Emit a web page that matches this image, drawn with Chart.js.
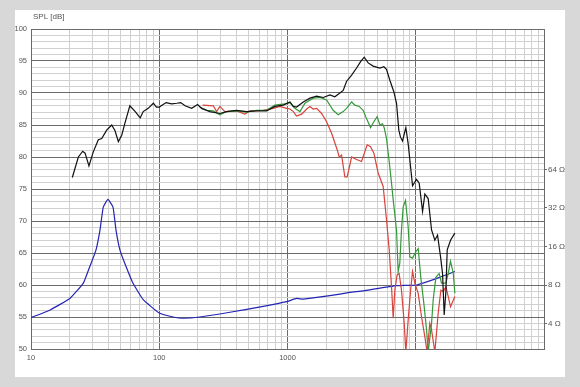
<!DOCTYPE html>
<html>
<head>
<meta charset="utf-8">
<script src="https://cdn.jsdelivr.net/npm/chart.js@4.4.0/dist/chart.umd.min.js"></script>
<style>
  html, body { margin: 0; padding: 0; background: #d8d8d8; }
  canvas { display: block; }
</style>
</head>
<body>
<canvas id="splChart" width="580" height="387"></canvas>
<script>
// SPL curves (Hz, dB)
const blackFreq = [21, 23.4, 25.3, 26.4, 28.3, 30.6, 33.5, 35.6, 38.9, 42.6, 45.2, 48, 51, 54, 59, 65, 71, 75, 82, 90, 95, 100, 113, 125, 137, 147, 159, 179, 199, 214, 248, 297, 335, 401, 480, 574, 687, 798, 927, 1045, 1110, 1178, 1327, 1496, 1687, 1902, 2140, 2340, 2560, 2718, 2884, 3162, 3456, 3715, 3963, 4257, 4656, 5250, 5636, 5915, 6281, 6745, 7081, 7380, 7603, 7886, 8370, 8724, 9440, 10140, 10640, 11300, 11780, 12500, 13280, 14090, 14790, 15610, 16180, 16670, 17180, 17590, 18670, 20180];
const blackSpl = [76.8, 80.0, 80.9, 80.6, 78.6, 80.8, 82.7, 82.9, 84.2, 85.0, 84.1, 82.4, 83.4, 85.3, 88.0, 87.1, 86.1, 87.1, 87.6, 88.4, 87.8, 87.8, 88.5, 88.3, 88.4, 88.5, 88.0, 87.6, 88.2, 87.6, 87.1, 86.8, 87.1, 87.3, 87.1, 87.2, 87.2, 87.9, 88.1, 88.6, 87.9, 87.8, 88.6, 89.2, 89.5, 89.3, 89.7, 89.4, 90.0, 90.4, 91.8, 92.8, 93.9, 94.9, 95.6, 94.7, 94.2, 93.9, 94.1, 93.7, 92.0, 90.2, 88.4, 84.2, 83.1, 82.5, 84.6, 82.1, 75.5, 76.5, 75.9, 71.5, 74.2, 73.5, 68.6, 67.0, 67.8, 64.4, 61.8, 55.3, 59.0, 65.5, 67.0, 68.1];

const greenFreq = [207, 234, 264, 297, 335, 401, 480, 574, 687, 798, 950, 1045, 1140, 1250, 1368, 1585, 1790, 2018, 2270, 2483, 2718, 2884, 3162, 3350, 3624, 3890, 4130, 4443, 4714, 5000, 5250, 5508, 5672, 5915, 6209, 6475, 6670, 7080, 7290, 7510, 7740, 7980, 8320, 8724, 8990, 9440, 10020, 10450, 10970, 11570, 12140, 12500, 13280, 13680, 14350, 15220, 15880, 17180, 17920, 18670, 19620, 20180];
const greenSpl = [87.8, 87.3, 87.2, 86.6, 87.1, 87.2, 87.0, 87.3, 87.3, 88.1, 88.3, 88.5, 87.6, 87.1, 88.4, 89.2, 89.3, 88.9, 87.3, 86.6, 87.1, 87.6, 88.6, 88.1, 87.9, 87.3, 86.0, 84.6, 85.5, 86.3, 85.0, 85.2, 84.6, 82.9, 79.3, 75.9, 73.3, 68.6, 62.1, 63.4, 68.6, 72.2, 73.2, 69.1, 64.4, 64.2, 65.2, 65.7, 61.0, 57.1, 53.0, 49.5, 54.0, 57.7, 61.2, 61.8, 60.3, 60.3, 61.8, 63.7, 61.8, 58.7];

const redFreq = [218, 264, 280, 297, 325, 401, 465, 509, 647, 774, 873, 985, 1045, 1110, 1178, 1290, 1410, 1496, 1585, 1687, 1845, 2018, 2208, 2443, 2530, 2640, 2800, 2920, 3162, 3456, 3778, 4180, 4443, 4714, 5093, 5572, 5915, 6209, 6475, 6670, 6870, 7160, 7420, 7740, 8130, 8370, 8724, 9120, 9440, 9840, 10450, 11100, 11780, 12270, 12870, 13280, 14090, 14960, 15700, 16370, 17180, 17920, 18670, 20180];
const redSpl = [88.1, 88.0, 87.1, 87.9, 87.1, 87.2, 86.7, 87.2, 87.3, 87.6, 87.9, 87.6, 87.5, 87.1, 86.4, 86.7, 87.5, 87.9, 87.5, 87.6, 86.8, 85.5, 83.7, 81.1, 80.0, 80.3, 76.9, 76.9, 80.0, 79.6, 79.3, 81.9, 81.6, 80.6, 77.5, 75.4, 70.2, 65.5, 59.7, 54.8, 59.2, 61.6, 61.8, 59.2, 54.0, 49.5, 54.5, 59.2, 62.1, 60.3, 58.7, 55.0, 51.9, 49.5, 54.0, 53.0, 49.5, 55.6, 59.2, 59.0, 59.7, 58.2, 56.6, 58.2];

// impedance curve (Hz, ohm)
const impFreq = [10, 14.1, 20.1, 25.6, 28.8, 32.1, 34.5, 36.6, 39.8, 43.6, 46.0, 49.4, 55.0, 62.3, 75, 100, 128, 154, 207, 356, 647, 985, 1178, 1327, 2140, 3060, 3890, 7080, 10140, 15400, 20180];
const impOhm = [4.45, 5.11, 6.28, 8.28, 11.2, 15.0, 21.5, 32.5, 37.3, 32.5, 21.5, 15.0, 11.2, 8.28, 6.14, 4.83, 4.5, 4.4, 4.5, 4.9, 5.45, 5.93, 6.28, 6.2, 6.6, 7.0, 7.2, 7.9, 8.0, 9.2, 10.2];

// axes
const freqLabels = [10, 100, 1000];
const ohmTicks = [4, 8, 16, 32, 64];

const MAJOR = '#6a6a6a';
const MINOR = '#d0d0d0';
const FONT = { family: 'Liberation Sans, Arial, sans-serif', size: 7.5 };

function toPoints(xs, ys) {
  return xs.map((x, i) => ({ x: x, y: ys[i] }));
}

function isDecade(v) {
  const l = Math.log10(v);
  return Math.abs(l - Math.round(l)) < 1e-6;
}

const paperPlugin = {
  id: 'paper',
  beforeDraw(chart) {
    const ctx = chart.ctx;
    ctx.save();
    ctx.fillStyle = '#d8d8d8';
    ctx.fillRect(0, 0, chart.width, chart.height);
    ctx.fillStyle = '#ffffff';
    ctx.fillRect(15, 10, 550, 367);
    ctx.restore();
  },
  afterDraw(chart) {
    const ctx = chart.ctx;
    ctx.save();
    ctx.fillStyle = '#555';
    ctx.font = '8px "Liberation Sans", Arial, sans-serif';
    ctx.textBaseline = 'middle';
    ctx.fillText('SPL [dB]', 33, 17);
    ctx.restore();
  }
};

const line = (pts, color, order) => ({
  data: pts,
  borderColor: color,
  borderWidth: 1.2,
  pointRadius: 0,
  tension: 0,
  fill: false,
  order: order
});

new Chart(document.getElementById('splChart'), {
  type: 'line',
  data: {
    datasets: [
      line(toPoints(blackFreq, blackSpl), '#111111', 0),
      line(toPoints(greenFreq, greenSpl), '#35993a', 1),
      line(toPoints(redFreq, redSpl), '#d8433b', 2),
      Object.assign(line(toPoints(impFreq, impOhm), '#2424b4', 3), { yAxisID: 'y1', tension: 0.12 })
    ]
  },
  plugins: [paperPlugin],
  options: {
    responsive: false,
    animation: false,
    layout: { padding: { top: 29, left: 0, right: 0, bottom: 0 } },
    plugins: { legend: { display: false }, tooltip: { enabled: false } },
    scales: {
      x: {
        type: 'logarithmic',
        min: 10,
        max: 100000,
        afterBuildTicks(scale) {
          const t = [];
          for (let d = 10; d < 100000; d *= 10) {
            for (let k = 1; k < 10; k++) t.push({ value: d * k });
          }
          t.push({ value: 100000 });
          scale.ticks = t;
        },
        afterFit(scale) { scale.height = 38; },
        ticks: {
          autoSkip: false,
          maxRotation: 0,
          padding: 4,
          color: '#555',
          font: FONT,
          callback: (v) => freqLabels.includes(v) ? String(v) : ''
        },
        grid: {
          drawTicks: false,
          color: (c) => isDecade(c.tick.value) ? MAJOR : MINOR
        },
        border: { color: MAJOR }
      },
      y: {
        position: 'left',
        min: 50,
        max: 100,
        afterBuildTicks(scale) {
          const t = [];
          for (let v = 50; v <= 100; v++) t.push({ value: v });
          scale.ticks = t;
        },
        afterFit(scale) { scale.width = 31; },
        ticks: {
          autoSkip: false,
          padding: 4,
          color: '#555',
          font: FONT,
          callback: (v) => v % 5 === 0 ? String(v) : ''
        },
        grid: {
          drawTicks: false,
          color: (c) => c.tick.value % 5 === 0 ? MAJOR : MINOR
        },
        border: { color: MAJOR }
      },
      y1: {
        type: 'logarithmic',
        position: 'right',
        min: 8 * Math.pow(10, -0.5),
        max: 800,
        afterBuildTicks(scale) {
          scale.ticks = ohmTicks.map(v => ({ value: v }));
        },
        afterFit(scale) { scale.width = 36; },
        ticks: {
          autoSkip: false,
          padding: 1,
          color: '#555',
          font: { family: 'Liberation Sans, Arial, sans-serif', size: 8 },
          callback: (v) => v + ' \u03A9'
        },
        grid: { drawOnChartArea: false, drawTicks: true, tickLength: 3, color: MAJOR },
        border: { color: MAJOR }
      }
    }
  }
});
</script>
</body>
</html>
